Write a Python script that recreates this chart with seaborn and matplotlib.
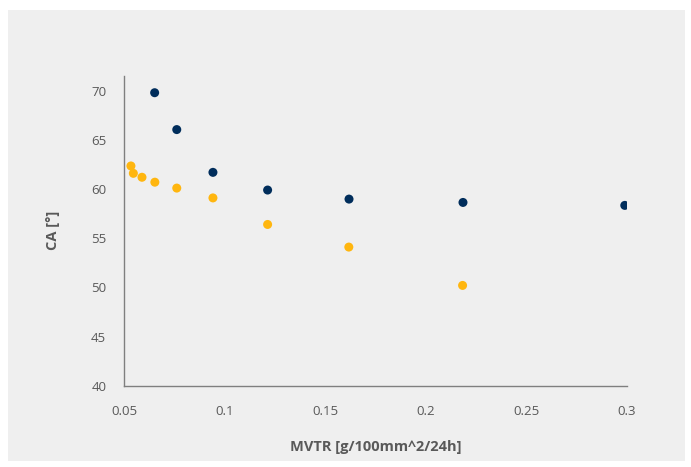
import matplotlib
matplotlib.use("Agg")
import matplotlib.pyplot as plt
import matplotlib.patches as mpatches
import pandas as pd
import seaborn as sns

# values
mvtr_a = [0.0651, 0.0761, 0.0941, 0.1213, 0.1618, 0.2185, 0.2990]
ca_a = [69.8, 66.05, 61.7, 59.9, 58.98, 58.64, 58.34]

mvtr_b = [0.0533, 0.0545, 0.0588, 0.0652, 0.0761, 0.0941, 0.1213, 0.1617, 0.2183]
ca_b = [62.35, 61.6, 61.2, 60.7, 60.1, 59.1, 56.4, 54.1, 50.2]

x_ticks = [0.05, 0.1, 0.15, 0.2, 0.25, 0.3]
x_labels = ["0.05", "0.1", "0.15", "0.2", "0.25", "0.3"]
y_ticks = [40, 45, 50, 55, 60, 65, 70]

df = pd.concat([
    pd.DataFrame({"mvtr": mvtr_a, "ca": ca_a, "serie": "a"}),
    pd.DataFrame({"mvtr": mvtr_b, "ca": ca_b, "serie": "b"}),
])

sns.set_style("white")
plt.rcParams["font.family"] = ["Open Sans", "DejaVu Sans"]

txt = "#595959"
bg = "#efefef"

fig = plt.figure(figsize=(6.91, 4.67), dpi=100)
fig.patch.set_facecolor("white")
panel = mpatches.Rectangle((8 / 691, 1 - 461 / 467), 677 / 691, 451 / 467,
                           transform=fig.transFigure, facecolor=bg,
                           edgecolor="none", zorder=-10)
fig.add_artist(panel)

ax = fig.add_axes([124.3 / 691, 1 - 385.7 / 467, 502.5 / 691, 309.7 / 467])
ax.set_facecolor(bg)
ax.set_zorder(1)

sns.scatterplot(data=df, x="mvtr", y="ca", hue="serie",
                palette={"a": "#002d5b", "b": "#ffb60f"},
                s=42, linewidth=0, legend=False, ax=ax, zorder=3)

ax.set_xlim(0.05, 0.3)
ax.set_ylim(40, 71.5)
ax.set_xticks(x_ticks)
ax.set_xticklabels(x_labels)
ax.set_yticks(y_ticks)

for side in ["top", "right"]:
    ax.spines[side].set_visible(False)
for side in ["left", "bottom"]:
    ax.spines[side].set_color("#7f7f7f")
    ax.spines[side].set_linewidth(1.0)

ax.tick_params(axis="both", direction="out", length=4, width=1, color="#7f7f7f",
               labelcolor=txt, labelsize=9.5, pad=10)
ax.tick_params(axis="y", pad=9)

ax.set_xlabel("MVTR [g/100mm^2/24h]", fontsize=10.5, fontweight="bold", color=txt, labelpad=16)
ax.set_ylabel("CA [°]", fontsize=10.5, fontweight="bold", color=txt, labelpad=22)

plt.savefig("out.png", dpi=100, facecolor=fig.get_facecolor())
